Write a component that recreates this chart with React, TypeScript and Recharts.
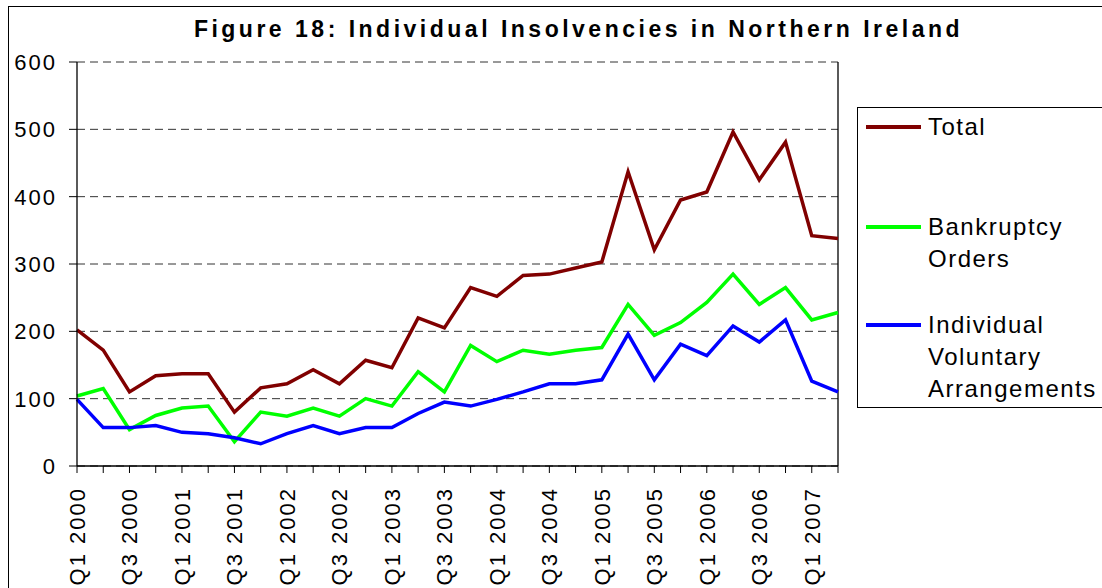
import { LineChart, Line, XAxis, YAxis, CartesianGrid, Legend, ReferenceLine } from "recharts"

const quarters = [
  "Q1 2000", "Q2 2000", "Q3 2000", "Q4 2000",
  "Q1 2001", "Q2 2001", "Q3 2001", "Q4 2001",
  "Q1 2002", "Q2 2002", "Q3 2002", "Q4 2002",
  "Q1 2003", "Q2 2003", "Q3 2003", "Q4 2003",
  "Q1 2004", "Q2 2004", "Q3 2004", "Q4 2004",
  "Q1 2005", "Q2 2005", "Q3 2005", "Q4 2005",
  "Q1 2006", "Q2 2006", "Q3 2006", "Q4 2006",
  "Q1 2007", "Q2 2007",
]

const total = [
  202, 172, 110, 134, 137, 137, 80, 116, 122, 143,
  122, 157, 146, 220, 205, 265, 252, 283, 285, 294,
  303, 437, 321, 395, 407, 496, 425, 481, 342, 338,
]

const bankruptcy = [
  104, 115, 54, 75, 86, 89, 36, 80, 74, 86,
  74, 100, 89, 140, 110, 179, 155, 172, 166, 172,
  176, 240, 194, 213, 243, 285, 240, 265, 217, 228,
]

const iva = [
  99, 57, 57, 60, 50, 48, 42, 33, 48, 60,
  48, 57, 57, 78, 95, 89, 99, 110, 122, 122,
  128, 196, 128, 181, 164, 208, 184, 217, 126, 110,
]

const yTicks = [0, 100, 200, 300, 400, 500, 600]

const seriesOrder = ["total", "bankruptcy", "iva"]
const legendLabels: Record<string, string> = {
  total: "Total",
  bankruptcy: "Bankruptcy\nOrders",
  iva: "Individual\nVoluntary\nArrangements",
}

const data = quarters.map((q, i) => ({
  quarter: q,
  total: total[i],
  bankruptcy: bankruptcy[i],
  iva: iva[i],
}))

const FONT = '"Liberation Sans", Arial, sans-serif'
const entryTops = [3, 103, 201]

function QuarterTick({ x, y, payload, index }: any) {
  const i = payload?.index ?? index
  if (i % 2 !== 0) return <g />
  return (
    <text
      x={x}
      y={y}
      transform={`rotate(-90, ${x}, ${y})`}
      textAnchor="end"
      dy="0.36em"
      fill="#000"
      style={{ fontSize: 22, fontFamily: FONT, letterSpacing: 2 }}
    >
      {payload.value}
    </text>
  )
}

function ValueTick({ x, y, payload }: any) {
  return (
    <text
      x={x}
      y={y}
      textAnchor="end"
      dy="0.36em"
      fill="#000"
      style={{ fontSize: 22, fontFamily: FONT, letterSpacing: 2 }}
    >
      {payload.value}
    </text>
  )
}

function renderLegend({ payload }: any) {
  const items = [...(payload || [])].sort(
    (a: any, b: any) => seriesOrder.indexOf(a.dataKey) - seriesOrder.indexOf(b.dataKey)
  )
  return (
    <div style={{ position: "relative", width: "100%", height: "100%", border: "1px solid #000", boxSizing: "border-box", background: "#fff" }}>
      {items.map((entry: any, i: number) => (
        <div
          key={entry.dataKey}
          style={{ position: "absolute", left: 8, top: entryTops[i], display: "flex", alignItems: "flex-start" }}
        >
          <div style={{ width: 55, height: 32, display: "flex", alignItems: "center" }}>
            <div style={{ width: 55, height: 3.5, background: entry.color }} />
          </div>
          <div
            style={{
              marginLeft: 7,
              fontSize: 24,
              lineHeight: "32px",
              letterSpacing: 1.5,
              fontFamily: FONT,
              color: "#000",
              whiteSpace: "pre",
            }}
          >
            {legendLabels[entry.dataKey]}
          </div>
        </div>
      ))}
    </div>
  )
}

export default function App() {
  return (
    <div style={{ position: "fixed", left: 0, top: 0, width: 1102, height: 588, overflow: "hidden", background: "#fff" }}>
      <div style={{ position: "absolute", left: 8, top: 6, width: 1200, height: 700, border: "1px solid #000" }} />
      <div
        style={{
          position: "absolute",
          left: 0,
          width: 1157,
          top: 16,
          textAlign: "center",
          fontFamily: FONT,
          fontWeight: "bold",
          fontSize: 23,
          letterSpacing: 3.5,
          color: "#000",
        }}
      >
        Figure 18: Individual Insolvencies in Northern Ireland
      </div>
      <div style={{ position: "absolute", left: 0, top: 0 }}>
        <LineChart width={1102} height={588} data={data} margin={{ top: 62, right: 264, bottom: 0, left: 0 }}>
          <CartesianGrid vertical={false} stroke="#333" strokeDasharray="8 5" />
          <XAxis
            dataKey="quarter"
            interval={0}
            height={122}
            tickSize={7}
            tickMargin={14}
            tick={<QuarterTick />}
            axisLine={{ stroke: "#000", strokeWidth: 1.3 }}
            tickLine={{ stroke: "#000" }}
          />
          <YAxis
            width={77}
            domain={[0, 600]}
            ticks={yTicks}
            tickSize={8}
            tickMargin={12}
            tick={<ValueTick />}
            axisLine={{ stroke: "#000", strokeWidth: 1.3 }}
            tickLine={{ stroke: "#000" }}
          />
          <ReferenceLine x={quarters[quarters.length - 1]} stroke="#000" strokeWidth={1.3} />
          <Legend
            layout="vertical"
            align="center"
            verticalAlign="middle"
            wrapperStyle={{ left: 857, top: 107, width: 260, height: 301 }}
            content={renderLegend}
          />
          <Line type="linear" dataKey="total" name="Total" stroke="#800000" strokeWidth={3.5} dot={false} isAnimationActive={false} />
          <Line type="linear" dataKey="bankruptcy" name="Bankruptcy Orders" stroke="#00ff00" strokeWidth={3.5} dot={false} isAnimationActive={false} />
          <Line type="linear" dataKey="iva" name="Individual Voluntary Arrangements" stroke="#0000ff" strokeWidth={3.5} dot={false} isAnimationActive={false} />
        </LineChart>
      </div>
    </div>
  )
}
